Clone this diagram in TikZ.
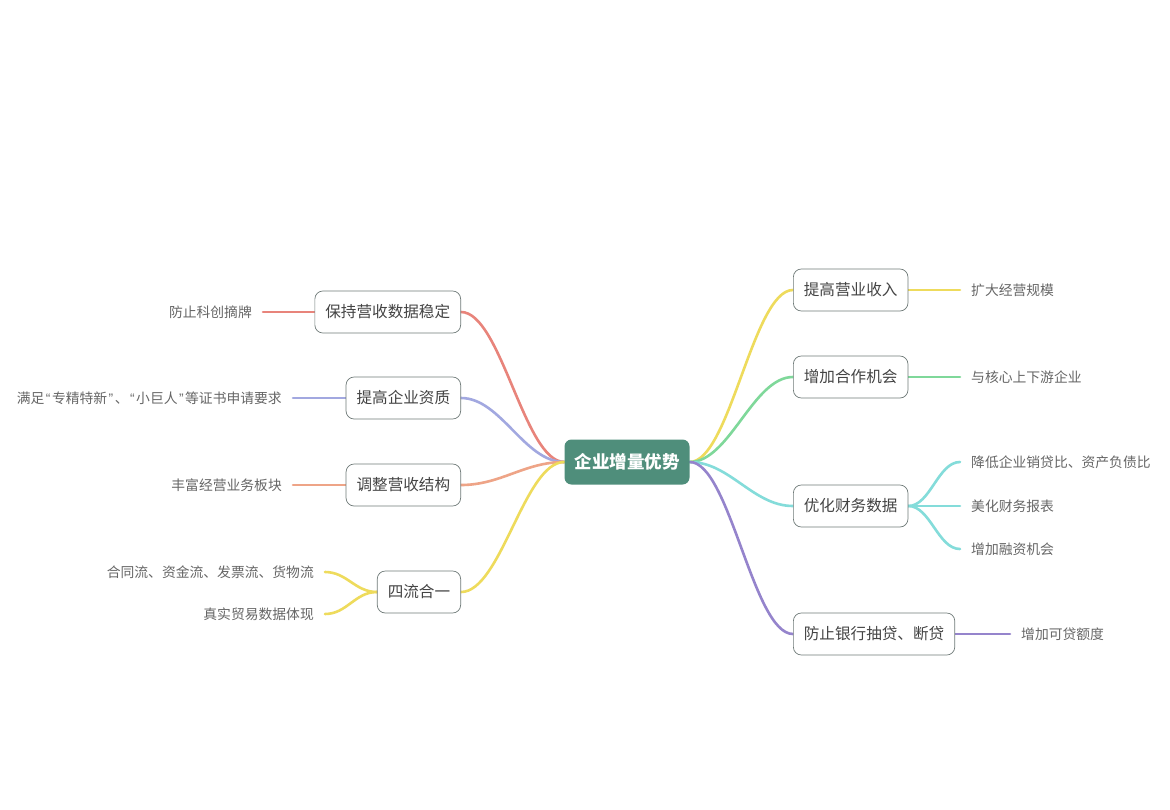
\documentclass[tikz,border=0pt]{standalone}
\usepackage{fontspec}
\setmainfont{Noto Sans CJK SC}
\newfontfamily\qf{Liberation Sans}
\newcommand{\myoq}{\kern1.5pt{\qf “}\kern1.5pt}
\newcommand{\mycq}{\kern1.5pt{\qf ”}\kern1.5pt}
\definecolor{cRed}{HTML}{E8847B}
\definecolor{cLav}{HTML}{A2A8E0}
\definecolor{cOra}{HTML}{EEA487}
\definecolor{cYel}{HTML}{EEDB5C}
\definecolor{cGrn}{HTML}{7FD89A}
\definecolor{cCyn}{HTML}{84DCDA}
\definecolor{cPur}{HTML}{9584CC}
\definecolor{cMain}{HTML}{4F8E7B}
\definecolor{cBorder}{HTML}{6F7A78}
\definecolor{cText}{HTML}{444444}
\definecolor{cLeaf}{HTML}{666666}
\pgfdeclarelayer{bg}
\pgfsetlayers{bg,main}
\tikzset{
  mainbox/.style={fill=cMain, rounded corners=7pt, text=white, font=\fontsize{17.5}{20}\selectfont\bfseries,
    minimum width=125pt, minimum height=45pt, inner sep=0pt},
  lvl/.style={draw=cBorder, line width=0.7pt, rounded corners=8pt, fill=white, text=cText,
    font=\fontsize{15.6}{18}\selectfont, minimum height=42pt, inner xsep=10.5pt, inner ysep=0pt},
  leafL/.style={text=cLeaf, font=\fontsize{13.8}{16}\selectfont, inner xsep=11pt, inner ysep=2pt, anchor=east},
  leafR/.style={text=cLeaf, font=\fontsize{13.8}{16}\selectfont, inner xsep=11pt, inner ysep=2pt, anchor=west},
  br/.style={line width=2.6pt, line cap=round},
}
\begin{document}
\begin{tikzpicture}[x=1pt,y=-1pt]
\begin{pgfonlayer}{bg}
\fill[white] (0,0) rectangle (1170,809);
\end{pgfonlayer}
\useasboundingbox (0,0) rectangle (1170,809);

% central
\node[mainbox] (c) at (627,462) {企业增量优势};

% left level-1
\node[lvl, anchor=east] (l1) at (461,312) {保持营收数据稳定};
\node[lvl, anchor=east] (l2) at (461,398) {提高企业资质};
\node[lvl, anchor=east] (l3) at (461,485) {调整营收结构};
\node[lvl, anchor=east] (l4) at (461,592) {四流合一};

% right level-1
\node[lvl, anchor=west] (r1) at (793,290) {提高营业收入};
\node[lvl, anchor=west] (r2) at (793,377) {增加合作机会};
\node[lvl, anchor=west] (r3) at (793,506) {优化财务数据};
\node[lvl, anchor=west] (r4) at (793,634) {防止银行抽贷、断贷};

% left leaves
\node[leafL] (a1) at (263,312) {防止科创摘牌};
\node[leafL] (a2) at (293,398) {满足\myoq 专精特新\mycq 、\myoq 小巨人\mycq 等证书申请要求};
\node[leafL] (a3) at (293,485) {丰富经营业务板块};
\node[leafL] (a4) at (325,572) {合同流、资金流、发票流、货物流};
\node[leafL] (a5) at (325,614) {真实贸易数据体现};

% right leaves
\node[leafR] (b1) at (960,290) {扩大经营规模};
\node[leafR] (b2) at (960,377) {与核心上下游企业};
\node[leafR] (b3) at (960,462) {降低企业销贷比、资产负债比};
\node[leafR] (b4) at (960,506) {美化财务报表};
\node[leafR] (b5) at (960,549) {增加融资机会};
\node[leafR] (b6) at (1010,634) {增加可贷额度};

\begin{pgfonlayer}{bg}
% central to level-1
\draw[br, cRed] (c.west) .. controls +(-40,0) and +(40,0) .. (l1.east);
\draw[br, cLav] (c.west) .. controls +(-40,0) and +(40,0) .. (l2.east);
\draw[br, cOra] (c.west) .. controls +(-40,0) and +(40,0) .. (l3.east);
\draw[br, cYel] (c.west) .. controls +(-40,0) and +(40,0) .. (l4.east);
\draw[br, cYel] (c.east) .. controls +(40,0) and +(-40,0) .. (r1.west);
\draw[br, cGrn] (c.east) .. controls +(40,0) and +(-40,0) .. (r2.west);
\draw[br, cCyn] (c.east) .. controls +(40,0) and +(-40,0) .. (r3.west);
\draw[br, cPur] (c.east) .. controls +(40,0) and +(-40,0) .. (r4.west);

% level-1 to leaves
\draw[br, cRed] (l1.west) -- (a1.east);
\draw[br, cLav] (l2.west) -- (a2.east);
\draw[br, cOra] (l3.west) -- (a3.east);
\draw[br, cYel] (l4.west) .. controls +(-22,0) and +(22,0) .. (a4.east);
\draw[br, cYel] (l4.west) .. controls +(-22,0) and +(22,0) .. (a5.east);
\draw[br, cYel] (r1.east) -- (b1.west);
\draw[br, cGrn] (r2.east) -- (b2.west);
\draw[br, cCyn] (r3.east) .. controls +(22,0) and +(-22,0) .. (b3.west);
\draw[br, cCyn] (r3.east) -- (b4.west);
\draw[br, cCyn] (r3.east) .. controls +(22,0) and +(-22,0) .. (b5.west);
\draw[br, cPur] (r4.east) -- (b6.west);
\end{pgfonlayer}
\end{tikzpicture}
\end{document}
